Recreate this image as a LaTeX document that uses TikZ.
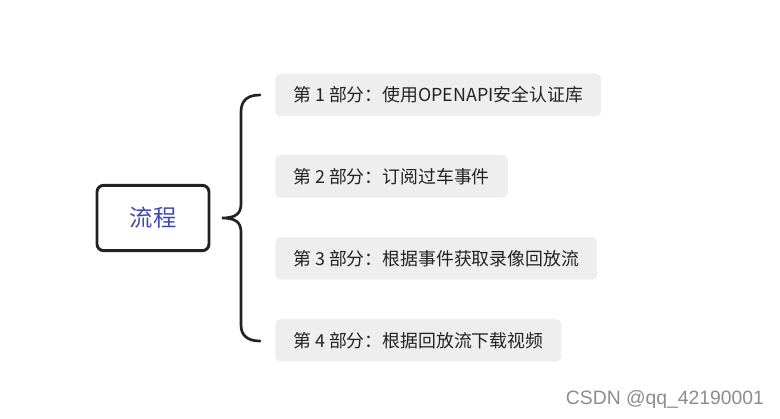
\documentclass[tikz,border=0pt]{standalone}
\usepackage{fontspec}
\usepackage{xcolor}
\usetikzlibrary{positioning}
\newfontfamily\cjk{Noto Sans CJK SC}
\newfontfamily\marksans{Liberation Sans}
\definecolor{rootblue}{RGB}{64,74,170}
\definecolor{partgray}{RGB}{238,238,238}
\definecolor{inkdark}{RGB}{34,34,34}

\begin{document}
\begin{tikzpicture}[
    x=0.75pt, y=-0.75pt,
    root/.style={rectangle, draw=inkdark, line width=2.2pt, rounded corners=5pt, minimum width=84pt, minimum height=49pt, align=center, text=rootblue, font=\cjk\fontsize{17.5}{21}\selectfont},
    part/.style={rectangle, fill=partgray, rounded corners=4pt, minimum height=32pt, inner xsep=13.5pt, text=inkdark, font=\cjk\fontsize{13.4}{16}\selectfont},
    brace/.style={draw=inkdark, line width=2pt, line cap=round}
]
\useasboundingbox (0,0) rectangle (780,418);

\node[root] (flow) at (153,218) {流程};
\node[part, anchor=west] (p1) at (275,95) {第 1 部分：使用OPENAPI安全认证库};
\node[part, below=61pt of p1.west, anchor=west] (p2) {第 2 部分：订阅过车事件};
\node[part, below=61.5pt of p2.west, anchor=west] (p3) {第 3 部分：根据事件获取录像回放流};
\node[part, below=61.5pt of p3.west, anchor=west] (p4) {第 4 部分：根据回放流下载视频};

% brace from the root to the four parts
\coordinate (btop) at (260,95);
\coordinate (bbot) at (260,341);
\coordinate (btip) at (222,218);
\draw[brace] (btop) .. controls (248,95) and (241,100) .. (241,112)
    -- (241,204) .. controls (241,214) and (235,218) .. (btip)
    .. controls (235,218) and (241,222) .. (241,232)
    -- (241,325) .. controls (241,336) and (248,341) .. (bbot);

\node[text=black!45, font=\marksans\fontsize{14.5}{17}\selectfont] (mark) at (665,399) {CSDN @qq\_42190001};
\end{tikzpicture}
\end{document}
